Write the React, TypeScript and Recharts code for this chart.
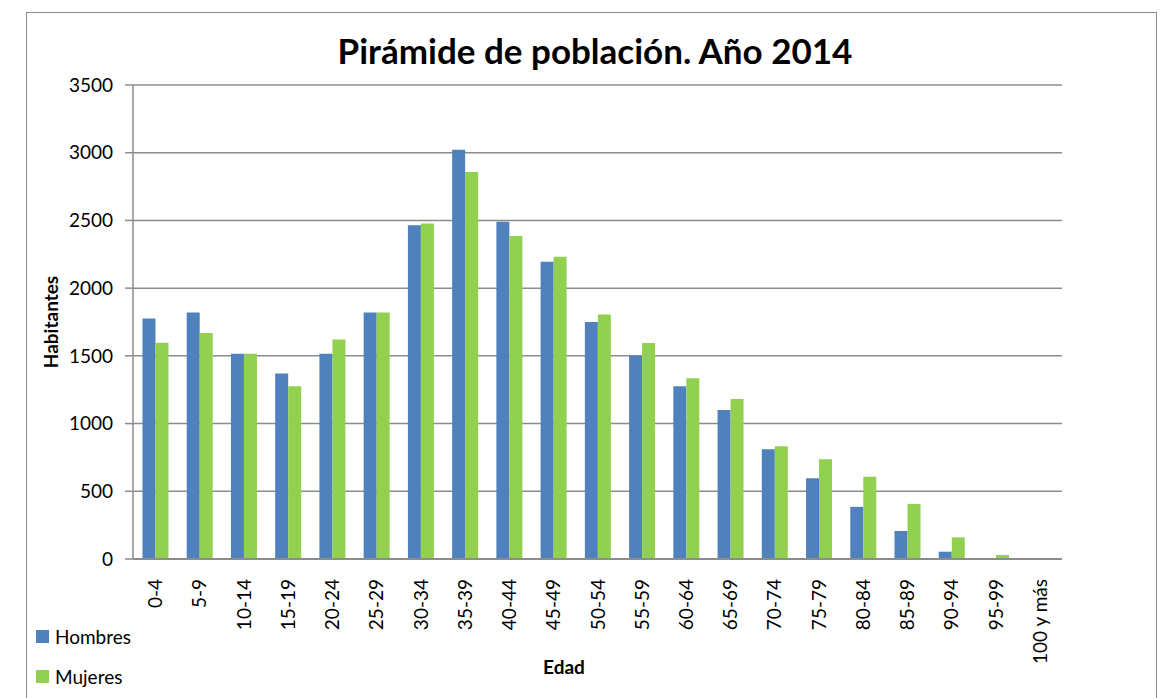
import React from 'react';
import { BarChart, Bar, XAxis, YAxis, CartesianGrid } from 'recharts';

const ageGroups = ['0-4', '5-9', '10-14', '15-19', '20-24', '25-29', '30-34', '35-39', '40-44', '45-49', '50-54', '55-59', '60-64', '65-69', '70-74', '75-79', '80-84', '85-89', '90-94', '95-99', '100 y más'];
const hombres = [1775, 1820, 1515, 1370, 1515, 1820, 2465, 3022, 2490, 2195, 1750, 1500, 1275, 1100, 810, 596, 385, 207, 54, 0, 0];
const mujeres = [1597, 1668, 1515, 1275, 1620, 1820, 2478, 2857, 2385, 2232, 1805, 1595, 1335, 1182, 833, 736, 607, 407, 160, 30, 0];
const yTicks = [0, 500, 1000, 1500, 2000, 2500, 3000, 3500];

const COLORS = { hombres: '#4f81bd', mujeres: '#92d050' };
const FONT = 'Lato, "Open Sans", sans-serif';

const data = ageGroups.map((edad, i) => ({ edad, Hombres: hombres[i], Mujeres: mujeres[i] }));

const AgeTick = (props: any) => {
  const { x, y, payload } = props;
  return (
    <text
      x={x + 7}
      y={y + 12}
      transform={`rotate(-90, ${x + 7}, ${y + 12})`}
      textAnchor="end"
      fontSize={19}
      fontFamily={FONT}
      fill="#000"
    >
      {payload.value}
    </text>
  );
};

export default function App() {
  return (
    <div style={{ position: 'absolute', left: 0, top: 0, width: 1167, height: 698, overflow: 'hidden', background: '#fff' }}>
      <div style={{ position: 'absolute', left: 26, top: 12, width: 1129, height: 720, border: '1.5px solid #8c8c8c' }} />
      <div style={{ position: 'absolute', left: 0, top: 0 }}>
        <BarChart
          width={1167}
          height={698}
          data={data}
          margin={{ top: 85, right: 105, bottom: 0, left: 0 }}
          barGap={0}
          barCategoryGap="21.4%"
        >
          <CartesianGrid vertical={false} stroke="#8c8c8c" strokeWidth={1.5} />
          <XAxis
            dataKey="edad"
            height={139}
            interval={0}
            tickLine={false}
            axisLine={{ stroke: '#8c8c8c', strokeWidth: 2 }}
            tick={<AgeTick />}
          />
          <YAxis
            width={133}
            domain={[0, 3500]}
            ticks={yTicks}
            tickSize={8}
            tickMargin={12}
            axisLine={{ stroke: '#8c8c8c', strokeWidth: 1.5 }}
            tickLine={{ stroke: '#8c8c8c', strokeWidth: 1.5 }}
            tick={{ fontSize: 19, fontFamily: FONT, fill: '#000' }}
          />
          <Bar dataKey="Hombres" fill={COLORS.hombres} isAnimationActive={false} />
          <Bar dataKey="Mujeres" fill={COLORS.mujeres} isAnimationActive={false} />
        </BarChart>
      </div>
      <div style={{ position: 'absolute', left: 36, top: 616, fontFamily: FONT, fontSize: 19, color: '#000' }}>
        {[
          { name: 'Hombres', color: COLORS.hombres },
          { name: 'Mujeres', color: COLORS.mujeres },
        ].map((item) => (
          <div key={item.name} style={{ display: 'flex', alignItems: 'center', height: 40 }}>
            <span style={{ width: 13, height: 13, background: item.color, marginRight: 6, display: 'inline-block' }} />
            {item.name}
          </div>
        ))}
      </div>
      <div style={{ position: 'absolute', left: 0, width: 1190, top: 29, textAlign: 'center', fontFamily: FONT, fontWeight: 700, fontSize: 35, color: '#000' }}>
        Pirámide de población. Año 2014
      </div>
      <div style={{ position: 'absolute', left: 500, width: 128, top: 655, textAlign: 'center', fontFamily: FONT, fontWeight: 700, fontSize: 19, color: '#000' }}>
        Edad
      </div>
      <div
        style={{
          position: 'absolute',
          left: 50,
          top: 322,
          transform: 'translate(-50%, -50%) rotate(-90deg)',
          fontFamily: FONT,
          fontWeight: 700,
          fontSize: 19,
          color: '#000',
          whiteSpace: 'nowrap',
        }}
      >
        Habitantes
      </div>
    </div>
  );
}
